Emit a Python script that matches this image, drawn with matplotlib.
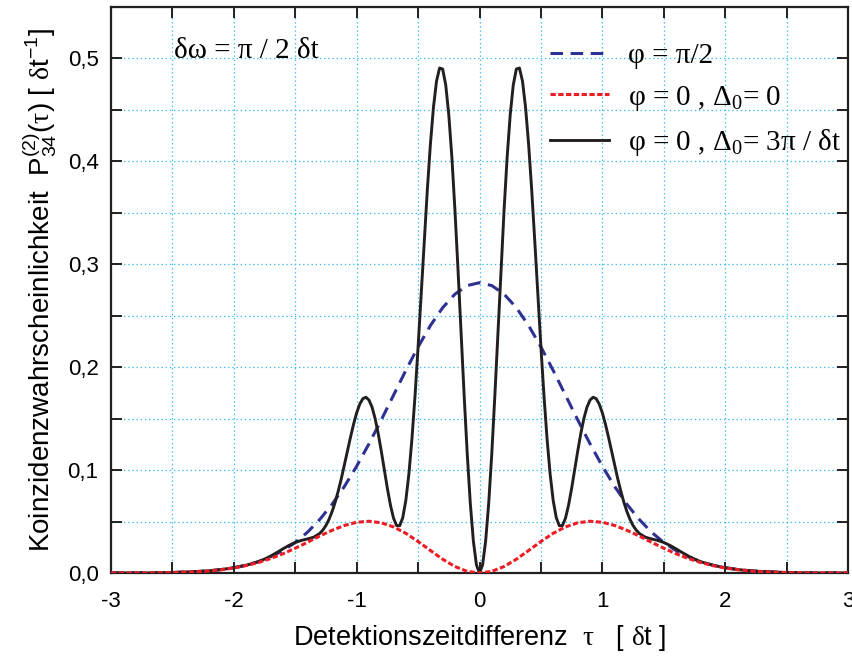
import matplotlib
matplotlib.use("Agg")
import matplotlib.pyplot as plt
from matplotlib.ticker import MultipleLocator, FuncFormatter

# -------- data (curves are symmetric in tau) --------
tau_smooth = [0.0, 0.1, 0.2, 0.3, 0.4, 0.5, 0.6, 0.7, 0.8, 0.9, 1.0,
              1.1, 1.2, 1.3, 1.4, 1.5, 1.6, 1.7, 1.8, 1.9, 2.0,
              2.1, 2.2, 2.3, 2.4, 2.5, 2.6, 2.7, 2.8, 2.9, 3.0]

# phi = pi/2  (blue dashed)
p_phi_half = [0.2821, 0.2793, 0.2710, 0.2578, 0.2404, 0.2197, 0.1968, 0.1728, 0.1487, 0.1255, 0.1038,
              0.0841, 0.0668, 0.0521, 0.0397, 0.0297, 0.0218, 0.0157, 0.0110, 0.0076, 0.0052,
              0.0034, 0.0022, 0.0014, 0.0009, 0.0005, 0.0003, 0.0002, 0.0001, 0.0001, 0.0000]

# phi = 0, Delta0 = 0  (red dotted)
p_delta0_half = [0.0000, 0.0016, 0.0063, 0.0134, 0.0219, 0.0306, 0.0386, 0.0448, 0.0488, 0.0503, 0.0493,
                 0.0462, 0.0415, 0.0360, 0.0299, 0.0241, 0.0187, 0.0141, 0.0102, 0.0072, 0.0049,
                 0.0032, 0.0020, 0.0012, 0.0008, 0.0004, 0.0002, 0.0001, 0.0001, 0.0000, 0.0000]

# phi = 0, Delta0 = 3pi/dt  (black solid)
tau_osc = [0.0, 0.025, 0.05, 0.075, 0.1, 0.125, 0.15, 0.175, 0.2, 0.225,
           0.25, 0.275, 0.3, 0.325, 0.35, 0.375, 0.4, 0.425, 0.45, 0.475,
           0.5, 0.525, 0.55, 0.575, 0.6, 0.625, 0.65, 0.675, 0.7, 0.725,
           0.75, 0.775, 0.8, 0.825, 0.85, 0.875, 0.9, 0.925, 0.95, 0.975,
           1.0, 1.025, 1.05, 1.075, 1.1, 1.125, 1.15, 1.175, 1.2, 1.225,
           1.25, 1.275, 1.3, 1.35, 1.4, 1.45, 1.5, 1.55, 1.6, 1.65, 1.7,
           1.75, 1.8, 1.85, 1.9, 1.95, 2.0,
           2.1, 2.2, 2.3, 2.4, 2.5, 2.6, 2.7, 2.8, 2.9, 3.0]
p_delta3_half = [0.0000, 0.0079, 0.0311, 0.0679, 0.1161, 0.1725, 0.2333, 0.2947, 0.3527, 0.4040,
                 0.4453, 0.4743, 0.4897, 0.4907, 0.4779, 0.4524, 0.4163, 0.3720, 0.3225, 0.2707,
                 0.2197, 0.1722, 0.1304, 0.0961, 0.0704, 0.0537, 0.0459, 0.0461, 0.0533, 0.0659,
                 0.0822, 0.1003, 0.1187, 0.1357, 0.1502, 0.1612, 0.1681, 0.1708, 0.1694, 0.1641,
                 0.1557, 0.1447, 0.1321, 0.1186, 0.1050, 0.0918, 0.0797, 0.0689, 0.0597, 0.0522,
                 0.0462, 0.0418, 0.0385, 0.0348, 0.0331, 0.0317, 0.0297, 0.0269, 0.0235, 0.0199, 0.0165,
                 0.0135, 0.0111, 0.0092, 0.0076, 0.0063, 0.0052,
                 0.0034, 0.0022, 0.0015, 0.0010, 0.0005, 0.0003, 0.0001, 0.0001, 0.0001, 0.0001]

legend_labels = [r"φ = π/2", r"φ = 0 , Δ$_0$= 0", r"φ = 0 , Δ$_0$= 3π / δt"]


def mirror(xs, ys):
    # build the full curve from the tau >= 0 half
    return [-x for x in xs[:0:-1]] + list(xs), list(ys[:0:-1]) + list(ys)


# -------- style --------
plt.rcParams["font.family"] = ["Liberation Sans", "DejaVu Sans"]
plt.rcParams["mathtext.fontset"] = "custom"
plt.rcParams["mathtext.rm"] = "Liberation Serif"
plt.rcParams["mathtext.it"] = "Liberation Serif:italic"
plt.rcParams["mathtext.sf"] = "Liberation Sans"
plt.rcParams["mathtext.default"] = "regular"
plt.rcParams["axes.unicode_minus"] = False
plt.rcParams["lines.scale_dashes"] = False

BLUE = "#2e3192"
RED = "#ed1c24"
BLACK = "#231f20"
GRID = "#38bdf0"

fig = plt.figure(figsize=(8.52, 6.6), dpi=100)
ax = fig.add_axes([0.1303, 0.1318, 0.865, 0.8576])

x, y = mirror(tau_smooth, p_phi_half)
ax.plot(x, y, color=BLUE, lw=2.2, dashes=(9, 5.5), label=legend_labels[0], zorder=3)
x, y = mirror(tau_smooth, p_delta0_half)
ax.plot(x, y, color=RED, lw=2.2, dashes=(3.8, 1.8), label=legend_labels[1], zorder=5)
x, y = mirror(tau_osc, p_delta3_half)
ax.plot(x, y, color=BLACK, lw=2.1, label=legend_labels[2], zorder=4)

ax.set_xlim(-3, 3)
ax.set_ylim(0, 0.55)

ax.xaxis.set_major_locator(MultipleLocator(1))
ax.xaxis.set_minor_locator(MultipleLocator(0.5))
ax.yaxis.set_major_locator(MultipleLocator(0.1))
ax.yaxis.set_minor_locator(MultipleLocator(0.05))
ax.xaxis.set_major_formatter(FuncFormatter(lambda v, p: f"{v:.0f}"))
ax.yaxis.set_major_formatter(FuncFormatter(lambda v, p: f"{v:.1f}".replace(".", ",")))

ax.tick_params(which="both", direction="in", top=True, right=True, length=8, width=1.4,
               color=BLACK, labelsize=16)
ax.tick_params(axis="x", which="major", pad=13)
ax.tick_params(axis="y", which="major", pad=9)
for s in ax.spines.values():
    s.set_linewidth(1.6)
    s.set_color(BLACK)

ax.grid(True, which="both", color=GRID, linestyle=(0, (1, 2)), linewidth=0.9)
ax.set_axisbelow(True)

ax.set_xlabel(r"Detektionszeitdifferenz  $\mathrm{\tau}$   [ $\mathrm{\delta}$t ]", fontsize=19.5, labelpad=8)
ax.set_ylabel(r"Koinzidenzwahrscheinlichkeit  $P^{(2)}_{34}$($\mathrm{\tau}$) [ $\mathrm{\delta}$t$^{-1}$]",
              fontsize=20, labelpad=6)

ax.text(-2.49, 0.507, "δω = π / 2 δt", family="Liberation Serif", fontsize=21, va="center", ha="left")

leg = ax.legend(loc="upper left", bbox_to_anchor=(0.596, 0.937), frameon=False,
                prop={"family": "Liberation Serif", "size": 21},
                handlelength=2.0, handletextpad=0.65, labelspacing=0.5,
                borderpad=0, borderaxespad=0)

fig.savefig("out.png", dpi=100)
